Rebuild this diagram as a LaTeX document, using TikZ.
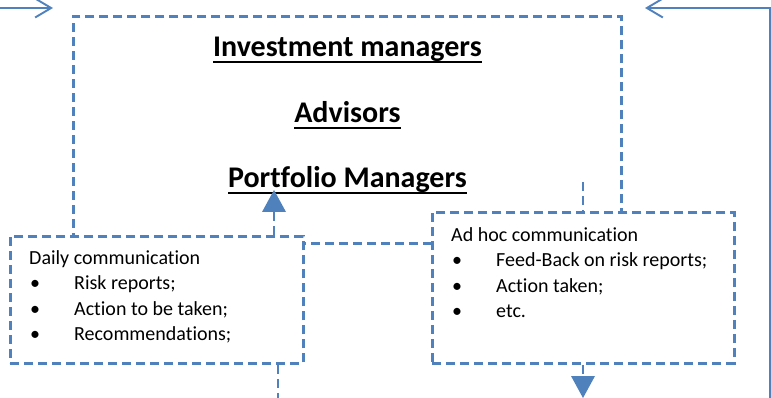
\documentclass[tikz,border=0pt]{standalone}
\usepackage{fontspec}
\setmainfont{Carlito}[Ligatures=NoCommon]
\usepackage{tikz}
\usetikzlibrary{arrows.meta, positioning}
\definecolor{officeblue}{HTML}{4F81BD}
\newcommand{\ulheading}[1]{\setbox0=\hbox{#1}\rlap{\rule[-6pt]{\wd0}{2.4pt}}\box0}
\newcommand{\bul}{\makebox[45pt][l]{\hspace{1pt}\textbullet}}

\begin{document}
\begin{tikzpicture}[
  x=1pt, y=-1pt,
  dashline/.style={draw=officeblue, line width=2.8pt, dash pattern=on 9pt off 5pt},
  solidline/.style={draw=officeblue, line width=1.9pt},
  commbox/.style={dashline, fill=white, rectangle, anchor=north west, inner sep=0pt},
  title/.style={font=\fontsize{30}{36}\selectfont\bfseries, anchor=base, inner sep=0pt},
  bulletlist/.style={font=\fontsize{20}{25.5}\selectfont, align=left, anchor=north west, inner sep=0pt},
  uptip/.style={-{Triangle[length=22pt, width=24pt, line width=0pt, fill=officeblue]}}
]
\useasboundingbox (0,0) rectangle (771,398);

% the managers
\node[dashline, rectangle, minimum width=548pt, minimum height=227pt, anchor=north west] (managers) at (72,15) {};
\node[title] (invest) at ([yshift=-42pt]managers.north) {\ulheading{Investment managers}};
\node[title] (advisors) at ([yshift=-66pt]invest.base) {\ulheading{Advisors}};
\node[title] (portfolio) at ([yshift=-65pt]advisors.base) {\ulheading{Portfolio Managers}};

% communication boxes
\node[commbox, minimum width=293pt, minimum height=127pt] (daily) at (9,235) {};
\node[bulletlist] (dailytext) at ([xshift=20pt, yshift=-15pt]daily.north west)
  {Daily communication\\ \bul Risk reports;\\ \bul Action to be taken;\\ \bul Recommendations;};
\node[commbox, minimum width=302pt, minimum height=151pt] (adhoc) at (431,211) {};
\node[bulletlist] (adhoctext) at ([xshift=20pt, yshift=-16pt]adhoc.north west)
  {Ad hoc communication\\ \bul Feed-Back on risk reports;\\ \bul Action taken;\\ \bul etc.};

% connectors
\coordinate (arrowup) at (274,190);
\coordinate (adhocin) at (583,182);
\coordinate (adhocout) at (583,398);
\coordinate (dailyout) at (278,398);
\draw[dashline, uptip] (daily.north -| arrowup) -- (arrowup);
\draw[dashline] (adhocin) -- (adhoc.north -| adhocin);
\draw[dashline, uptip] (adhoc.south -| adhocout) -- (adhocout);
\draw[dashline] (daily.south -| dailyout) -- (dailyout);

% feedback loop
\coordinate (loopin) at (0,8);
\coordinate (loopintip) at (53,8);
\coordinate (loopbottom) at (770,398);
\coordinate (looptop) at (770,8);
\coordinate (loopouttip) at (645,8);
\draw[solidline, -{Straight Barb[length=16pt, width=19pt]}] (loopin) -- (loopintip);
\draw[solidline, -{Straight Barb[length=16pt, width=19pt]}] (loopbottom) -- (looptop) -- (loopouttip);
\end{tikzpicture}
\end{document}
